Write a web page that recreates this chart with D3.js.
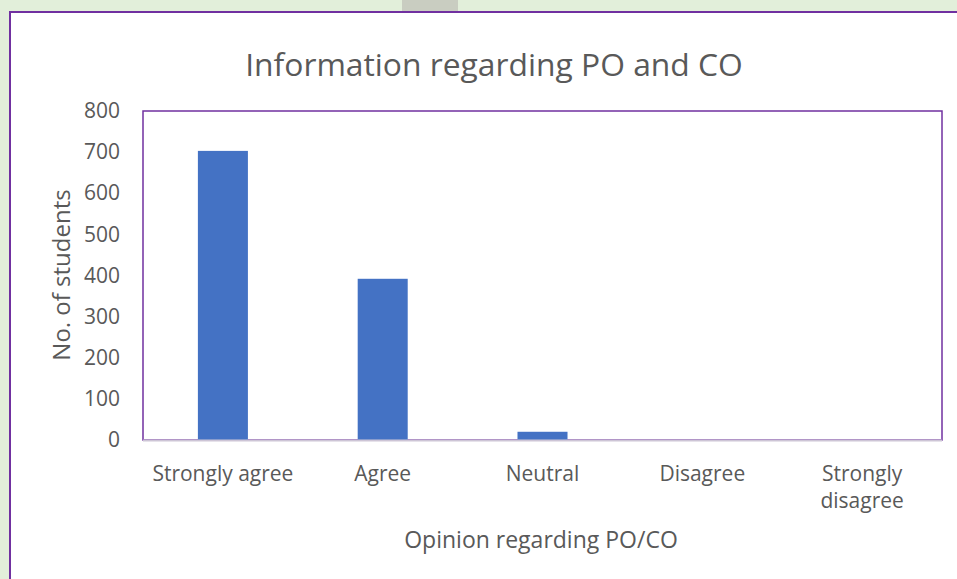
<!DOCTYPE html>
<html>
<head>
<meta charset="utf-8">
<script src="https://cdn.jsdelivr.net/npm/d3@7"></script>
<style>
  body { margin: 0; padding: 0; background: #e2efda; overflow: hidden; }
  text { font-family: "Open Sans", sans-serif; fill: #595959; }
</style>
</head>
<body>
<div id="chart"></div>
<script>
// Data
var categories = ['Strongly agree', 'Agree', 'Neutral', 'Disagree', 'Strongly disagree'];
var students   = [703, 392, 20, 0, 0];
var yTicks     = [0, 100, 200, 300, 400, 500, 600, 700, 800];

var chart_width  = 957;
var chart_height = 579;

var plot = { left: 143, right: 942, top: 111, bottom: 440 };

var svg = d3.select('#chart')
    .append('svg')
    .attr('width', chart_width)
    .attr('height', chart_height);

// page background + little grey tab at the top
svg.append('rect')
    .attr('width', chart_width).attr('height', chart_height)
    .attr('fill', '#e2efda');
svg.append('rect')
    .attr('x', 402).attr('y', 0).attr('width', 56).attr('height', 12)
    .attr('fill', '#c9cdc1');

// chart area with purple frame (runs off the window)
svg.append('rect')
    .attr('x', 10).attr('y', 12)
    .attr('width', chart_width + 20).attr('height', chart_height + 20)
    .attr('fill', '#ffffff')
    .attr('stroke', '#7030a0')
    .attr('stroke-width', 2);

var x = d3.scaleBand()
    .domain(categories)
    .range([plot.left, plot.right])
    .paddingInner(0.687)
    .paddingOuter(0.3435);

var y = d3.scaleLinear()
    .domain([0, 800])
    .range([plot.bottom, plot.top]);

// plot area frame
svg.append('rect')
    .attr('x', plot.left).attr('y', plot.top)
    .attr('width', plot.right - plot.left)
    .attr('height', plot.bottom - plot.top)
    .attr('fill', 'none')
    .attr('stroke', '#7030a0')
    .attr('stroke-width', 1.5);

// bars
svg.append('g')
    .selectAll('rect')
    .data(students)
    .enter()
    .append('rect')
    .attr('x', function(d, i){ return x(categories[i]); })
    .attr('y', function(d){ return y(d); })
    .attr('width', x.bandwidth())
    .attr('height', function(d){ return plot.bottom - y(d); })
    .attr('fill', '#4472c4');

// bottom axis line
svg.append('line')
    .attr('x1', plot.left).attr('x2', plot.right)
    .attr('y1', plot.bottom + 0.5).attr('y2', plot.bottom + 0.5)
    .attr('stroke', '#cdc5d6')
    .attr('stroke-width', 2);

// y axis
var yAxis = svg.append('g')
    .attr('transform', 'translate(' + plot.left + ',0)')
    .call(d3.axisLeft(y).tickValues(yTicks).tickSize(0).tickPadding(23));
yAxis.select('.domain').remove();
yAxis.selectAll('text')
    .style('font-size', '21px')
    .style('font-family', '"Open Sans", sans-serif')
    .attr('fill', '#595959');

// x axis
var xAxis = svg.append('g')
    .attr('transform', 'translate(0,' + plot.bottom + ')')
    .call(d3.axisBottom(x).tickSize(0).tickPadding(26));
xAxis.select('.domain').remove();
xAxis.selectAll('text')
    .style('font-size', '21px')
    .style('font-family', '"Open Sans", sans-serif')
    .attr('fill', '#595959')
    .each(function(d){
        if (d === 'Strongly disagree') {
            var t = d3.select(this);
            t.text(null);
            t.append('tspan').attr('x', 0).attr('dy', '0.71em').text('Strongly');
            t.append('tspan').attr('x', 0).attr('dy', '1.27em').text('disagree');
            t.attr('dy', null);
        }
    });

// title
svg.append('text')
    .attr('x', 494).attr('y', 76)
    .attr('text-anchor', 'middle')
    .style('font-size', '31.8px')
    .text('Information regarding PO and CO');

// axis titles
svg.append('text')
    .attr('x', 541).attr('y', 548)
    .attr('text-anchor', 'middle')
    .style('font-size', '23px')
    .text('Opinion regarding PO/CO');

svg.append('text')
    .attr('transform', 'translate(70,' + 275 + ') rotate(-90)')
    .attr('text-anchor', 'middle')
    .style('font-size', '24px')
    .text('No. of students');
</script>
</body>
</html>
